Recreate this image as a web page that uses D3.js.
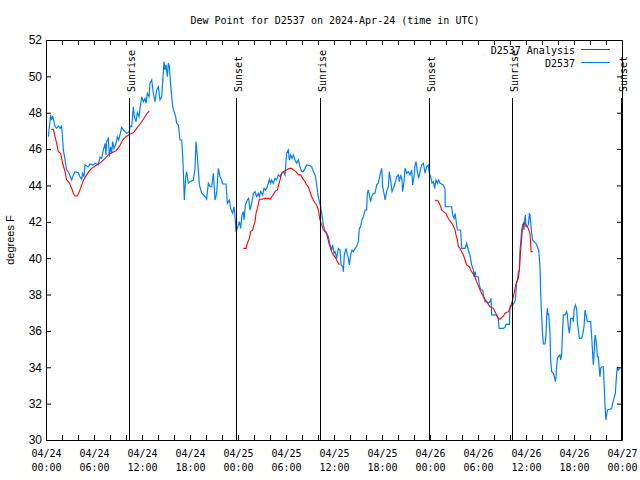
<!DOCTYPE html>
<html><head><meta charset="utf-8">
<script src="https://cdn.jsdelivr.net/npm/d3@7"></script>
<style>body{margin:0;background:#fff}svg{display:block}</style>
</head><body><svg id="c" width="640" height="480"></svg>
<script>
// hours since 2024-04-24 00:00 UTC, dew point in degrees F
const observed = [[0.29,46.68],[0.58,47.88],[0.71,47.60],[0.83,47.82],[1.0,47.51],[1.13,47.23],[1.33,47.14],[1.54,47.27],[1.75,47.14],[1.96,47.27],[2.08,46.5],[2.17,45.95],[2.38,45.40],[2.58,44.85],[2.79,44.76],[3.21,44.30],[3.42,44.58],[3.63,44.76],[4.04,44.70],[4.25,44.48],[4.46,44.34],[4.58,44.67],[4.75,44.48],[4.88,45.13],[5.29,45.03],[5.5,45.18],[5.92,45.13],[6.13,45.22],[6.54,45.13],[6.75,45.55],[6.96,45.49],[7.17,45.95],[7.38,46.32],[7.5,45.68],[7.58,46.41],[7.79,46.59],[7.92,45.58],[8.08,46.13],[8.21,45.77],[8.33,46.41],[8.5,46.04],[8.75,46.32],[8.92,46.68],[9.08,46.50],[9.25,46.78],[9.46,47.20],[9.67,47.05],[9.88,46.96],[10.08,46.87],[10.42,46.96],[10.5,47.27],[10.71,47.23],[10.92,48.33],[11.04,47.78],[11.25,47.51],[11.42,48.0],[11.63,47.78],[11.75,48.24],[11.96,48.88],[12.17,48.61],[12.38,48.79],[12.5,48.52],[12.67,49.07],[12.88,48.88],[13.0,49.62],[13.21,49.80],[13.42,49.07],[13.63,48.61],[13.83,49.25],[14.04,49.43],[14.25,48.70],[14.46,48.88],[14.75,50.81],[14.88,50.35],[15.0,50.63],[15.17,49.98],[15.29,50.72],[15.42,50.53],[15.58,49.53],[15.83,48.33],[16.0,48.06],[16.21,47.78],[16.33,47.42],[16.54,47.33],[16.75,46.50],[16.96,46.50],[17.08,45.68],[17.17,44.76],[17.29,43.20],[17.46,44.48],[17.58,44.76],[17.79,44.12],[18.0,44.21],[18.42,44.30],[18.63,44.94],[18.75,46.41],[18.92,45.58],[19.17,44.03],[19.46,43.57],[19.67,43.48],[19.88,43.38],[20.08,43.24],[20.29,44.12],[20.5,43.93],[20.71,43.93],[20.92,44.67],[21.13,43.20],[21.33,43.57],[21.54,44.94],
[21.75,44.48],[21.96,44.30],[22.08,44.08],[22.5,44.08],[22.67,43.02],[22.92,43.20],[23.08,42.74],[23.33,42.47],[23.5,42.83],[23.63,42.28],[23.75,41.46],[23.92,41.64],[24.17,42.01],[24.33,41.64],[24.5,42.38],[24.67,42.56],[24.75,42.10],[24.92,42.93],[25.17,43.20],[25.33,43.29],[25.5,42.65],[25.71,43.02],[25.92,43.57],[26.13,43.66],[26.33,43.38],[26.54,43.57],[26.67,43.38],[26.83,43.66],[27.08,43.48],[27.25,43.84],[27.42,43.75],[27.58,43.84],[27.79,44.12],[27.92,44.34],[28.08,44.12],[28.21,44.30],[28.42,44.12],[28.63,44.39],[28.83,44.30],[29.04,44.58],[29.25,44.48],[29.46,44.67],[29.67,44.76],[29.88,44.58],[30.08,45.77],[30.29,45.95],[30.42,45.40],[30.58,45.68],[30.75,45.49],[30.92,45.68],[31.13,45.40],[31.33,45.22],[31.54,45.40],[31.75,45.03],[31.96,44.76],[32.17,44.76],[32.38,44.94],[32.58,45.13],[33.0,45.09],[33.21,45.03],[33.42,44.76],[33.63,44.58],[33.75,44.30],[33.92,43.75],[34.04,43.38],[34.17,43.11],[34.33,42.83],[34.46,42.47],[34.67,41.83],[34.88,41.46],[35.08,41.37],[35.29,41.18],
[35.5,40.73],[35.71,40.45],[35.83,40.73],[36.0,40.27],[36.13,40.36],[36.33,39.99],[36.54,40.54],[36.75,40.45],[36.88,39.63],[37.08,39.53],[37.17,39.26],[37.29,40.18],[37.5,40.54],[37.67,40.18],[37.79,39.99],[37.92,39.63],[38.08,40.18],[38.25,40.45],[38.42,40.36],[38.63,40.54],[38.83,40.64],[39.04,40.91],[39.17,41.64],[39.33,41.73],[39.5,42.10],[39.67,42.28],[39.88,42.65],[40.08,42.65],[40.17,43.57],[40.29,43.75],[40.42,43.48],[40.58,43.11],[40.71,43.38],[40.92,43.57],[41.13,43.57],[41.33,44.03],[41.54,44.12],[41.75,44.58],[41.96,44.94],[42.08,43.93],[42.25,43.57],[42.38,43.20],[42.58,43.66],[42.79,43.93],[42.92,44.76],[43.08,44.30],[43.25,43.66],[43.42,43.84],[43.63,44.12],[43.83,44.48],[44.04,44.58],[44.17,44.21],[44.33,44.58],[44.5,44.30],[44.58,43.66],[44.75,44.21],[44.88,44.94],[45.08,44.67],[45.29,44.76],[45.5,44.58],[45.71,44.85],[45.83,44.03],[46.0,44.48],[46.13,45.13],[46.25,45.31],[46.42,44.76],[46.58,44.39],[46.75,44.76],[46.96,45.13],[47.17,45.22],[47.38,44.67],[47.58,45.03],[47.79,45.13],[47.92,44.67],[48.08,44.48],[48.25,44.12],[48.42,44.21],[48.58,43.84],[48.75,44.30],[48.92,44.12],[49.08,44.30],[49.25,44.12],[49.67,44.03],[49.88,43.79],[49.9,42.83],[50.71,42.83],[50.83,42.38],[51.0,42.19],[51.13,42.47],[51.25,42.10],[51.42,41.55],[51.83,41.55],[51.96,40.54],[52.38,40.54],[52.58,40.82],[52.79,40.45],[53.0,40.15],
[53.21,39.63],[53.42,39.35],[53.5,38.98],[53.63,39.26],[53.75,38.98],[54.04,38.98],[54.17,38.53],[54.33,38.25],[54.58,38.25],[54.67,37.98],[54.88,37.61],[55.08,37.61],[55.29,37.52],[55.5,37.61],[55.63,37.79],[55.71,36.88],[56.33,36.88],[56.54,36.69],[56.63,36.14],[57.17,36.14],[57.38,36.20],[57.5,36.36],[57.92,36.36],[58.0,37.37],[58.21,37.37],[58.33,37.43],[58.5,37.52],[58.67,37.70],[58.75,38.16],[58.83,38.71],[58.92,38.71],[59.04,39.26],[59.17,39.35],[59.25,40.45],[59.33,40.82],[59.46,41.55],[59.58,41.83],[59.67,41.92],[59.75,41.55],[59.83,42.10],[59.92,42.37],[60.0,41.73],[60.17,41.73],[60.29,41.83],[60.42,42.47],[60.5,42.37],[60.58,42.01],[60.71,41.37],[60.83,41.0],[61.0,40.91],[61.25,40.82],[61.42,40.63],[61.58,40.45],[61.75,39.53],[61.83,38.07],[61.96,36.78],[62.08,35.78],[62.17,35.28],[62.38,35.28],[62.5,35.78],[62.58,36.78],[62.67,37.24],[62.75,36.88],[62.83,36.97],[63.0,35.87],[63.08,34.40],[63.21,33.76],[63.42,33.67],[63.54,33.48],[63.67,33.21],[63.75,33.48],[63.83,34.03],[63.92,34.49],[64.04,34.58],[64.25,34.68],[64.33,34.40],[64.46,34.68],[64.58,36.14],[64.67,36.88],[64.88,36.88],[65.08,37.06],[65.17,36.88],[65.29,36.23],[65.42,35.87],[65.5,36.14],[65.58,36.69],[65.83,36.69],[65.92,36.51],[66.0,37.15],[66.17,37.43],[66.33,37.24],[66.42,36.51],[66.54,36.05],[66.67,35.59],[66.96,35.59],[67.08,35.78],[67.25,36.23],[67.38,37.15],[67.5,36.88],[67.67,36.51],[68.08,36.51],[68.21,35.68],[68.33,34.77],[68.42,34.13],[68.5,34.68],[68.63,35.78],[68.75,35.50],[68.83,35.13],[68.92,34.58],[69.04,34.58],[69.17,33.85],[69.25,33.48],[69.33,33.94],[69.46,34.03],[69.67,34.03],[69.75,33.21],[69.88,31.83],[70.0,31.1],[70.08,31.38],[70.17,31.65],[70.5,31.69],[70.71,31.74],[70.83,32.02],[71.0,32.29],[71.17,32.57],[71.25,33.12],[71.33,33.67],[71.42,34.03],[71.54,33.85],[71.75,33.94]];

const analysisDay1 = [[0.625,47.09],[0.92,47.09],[1.13,46.68],[1.33,46.32],[1.54,45.86],[1.83,45.77],[2.08,45.22],[2.38,44.76],[2.58,44.30],[2.92,44.15],[3.21,43.84],[3.42,43.57],[3.63,43.42],[3.92,43.42],[4.17,43.66],[4.46,44.03],[4.75,44.34],[5.08,44.58],[5.42,44.80],[5.71,44.94],[6.13,45.07],[6.54,45.18],[6.96,45.31],[7.38,45.49],[7.79,45.68],[8.21,45.80],[8.75,45.91],[9.17,46.13],[9.58,46.50],[10.0,46.68],[10.5,46.83],[10.92,46.90],[11.33,47.14],[11.75,47.38],[12.17,47.64],[12.58,47.93],[12.92,48.10]];
const analysisDay2 = [[24.67,40.54],[25.0,40.54],[25.17,40.82],[25.42,41.09],[25.58,41.46],[25.83,41.55],[26.0,41.83],[26.13,42.01],[26.25,42.47],[26.42,42.74],[26.67,43.24],[26.96,43.24],[27.38,43.29],[27.79,43.29],[28.0,43.24],[28.21,43.38],[28.42,43.48],[28.63,43.66],[28.92,43.75],[29.08,44.03],[29.25,44.30],[29.46,44.67],[29.67,44.76],[30.08,44.85],[30.42,44.94],[30.71,44.94],[30.92,44.85],[31.25,44.76],[31.54,44.58],[31.83,44.58],[32.08,44.39],[32.38,44.21],[32.58,44.03],[32.79,43.93],[33.0,43.66],[33.21,43.38],[33.42,43.20],[33.63,43.02],[33.83,42.93],[34.04,42.65],[34.25,42.10],[34.46,41.83],[34.67,41.55],[35.0,41.46],[35.17,41.18],[35.42,40.73],[35.71,40.36],[35.92,40.18],[36.25,39.99],[36.42,39.81],[36.67,39.63]];
const analysisDay3 = [[48.63,43.20],[48.83,43.16],[49.0,43.16],[49.25,42.93],[49.46,42.65],[49.67,42.56],[50.0,42.47],[50.17,42.28],[50.42,42.10],[50.71,41.92],[50.92,41.77],[51.13,41.55],[51.25,41.28],[51.42,41.0],[51.54,40.64],[51.75,40.54],[51.96,40.36],[52.17,40.18],[52.38,39.90],[52.58,39.63],[52.92,39.53],[53.08,39.35],[53.33,39.17],[53.63,38.98],[53.83,38.71],[54.17,38.34],[54.25,38.25],[54.67,37.88],[55.08,37.61],[55.5,37.33],[55.92,37.24],[56.33,36.88],[56.54,36.69],[56.75,36.64],[57.17,36.82],[57.38,36.97],[57.79,37.06],[58.0,37.24],[58.21,37.52],[58.42,37.88],[58.63,38.34],[58.83,38.71],[59.04,38.89],[59.17,39.35],[59.25,39.90],[59.33,40.45],[59.46,41.09],[59.54,41.55],[59.67,41.83],[59.88,41.92],[60.08,41.80],[60.29,41.64],[60.42,41.46],[60.5,41.37],[60.58,40.82],[60.63,40.36],[60.83,40.36]];

const sunHours = [10.35, 23.8, 34.3, 47.82, 58.3, 71.85];
const sunLabels = ["Sunrise","Sunset","Sunrise","Sunset","Sunrise","Sunset"];
const yTicks = [30,32,34,36,38,40,42,44,46,48,50,52];
const seriesNames = ["D2537 Analysis","D2537"];
const seriesColors = ["#ff0000","#0080ff"];
const titleText = "Dew Point for D2537 on 2024-Apr-24 (time in UTC)";
const yLabel = "degrees F";

const t0 = Date.UTC(2024,3,24);
const toDate = h => new Date(t0 + h*3600e3);
const mono = "'DejaVu Sans Mono', monospace";
const sans = "'Liberation Sans', Arial, sans-serif";

const svg = d3.select("#c");
const L=46, R=622, T=40, B=440;
const x = d3.scaleUtc().domain([toDate(0), toDate(72)]).range([L,R]);
const y = d3.scaleLinear().domain([30,52]).range([B,T]);

svg.append("text").attr("x",335).attr("y",24).attr("text-anchor","middle")
  .attr("font-family",mono).attr("font-size",10).text(titleText);

// plot lines
const line = d3.line().x(d=>x(toDate(d[0]))).y(d=>y(d[1]));
svg.append("clipPath").attr("id","pc").append("rect").attr("x",L).attr("y",T).attr("width",R-L).attr("height",B-T);
const g = svg.append("g").attr("clip-path","url(#pc)");
g.append("path").datum(observed).attr("d",line).attr("fill","none")
  .attr("stroke",seriesColors[1]).attr("stroke-width",1.2);
[analysisDay1,analysisDay2,analysisDay3].forEach(seg=>{
  g.append("path").datum(seg).attr("d",line).attr("fill","none")
   .attr("stroke",seriesColors[0]).attr("stroke-width",1.1);
});

// sun events
sunHours.forEach((h,i)=>{
  const lx = Math.round(x(toDate(h)))+0.5;
  svg.append("line").attr("x1",lx).attr("x2",lx).attr("y1",98).attr("y2",B)
    .attr("stroke","#000").attr("stroke-width",1);
  svg.append("text").attr("transform",`translate(${lx+5},92) rotate(-90)`)
    .attr("font-family",mono).attr("font-size",10).text(sunLabels[i]);
});

// axes
const hourTicks = d3.utcHour.every(2).range(toDate(0), toDate(72.01));
const axB = svg.append("g").attr("transform",`translate(0,${B})`)
  .call(d3.axisBottom(x).tickValues(hourTicks).tickSize(-5).tickSizeOuter(0).tickFormat(""));
const axT = svg.append("g").attr("transform",`translate(0,${T})`)
  .call(d3.axisTop(x).tickValues(hourTicks).tickSize(-5).tickSizeOuter(0).tickFormat(""));
const axL = svg.append("g").attr("transform",`translate(${L},0)`)
  .call(d3.axisLeft(y).tickValues(yTicks).tickSize(-5).tickSizeOuter(0).tickPadding(4).tickFormat(d3.format("d")));
const axR = svg.append("g").attr("transform",`translate(${R},0)`)
  .call(d3.axisRight(y).tickValues(yTicks).tickSize(-5).tickSizeOuter(0).tickFormat(""));
[axB,axT,axL,axR].forEach(a=>{a.selectAll("path,line").attr("stroke","#000");});
axL.selectAll("text").attr("font-family",sans).attr("font-size",12).attr("fill","#000");

const labTicks = d3.utcHour.every(6).range(toDate(0), toDate(72.01));
const fD = d3.utcFormat("%m/%d"), fH = d3.utcFormat("%H:%M");
const xl = svg.append("g").attr("font-family",mono).attr("font-size",10).attr("text-anchor","middle");
labTicks.forEach(d=>{
  const t = xl.append("text");
  t.append("tspan").attr("x",x(d)+0.5).attr("y",457).text(fD(d));
  t.append("tspan").attr("x",x(d)+0.5).attr("y",471).text(fH(d));
});

svg.append("text").attr("transform","translate(14,240) rotate(-90)").attr("text-anchor","middle")
  .attr("font-family",sans).attr("font-size",11).text(yLabel);

// legend
seriesNames.forEach((n,i)=>{
  const ly = 49.5 + i*13;
  svg.append("text").attr("x",575).attr("y",ly+4.5).attr("text-anchor","end")
    .attr("font-family",mono).attr("font-size",10).text(n);
  svg.append("line").attr("x1",581).attr("x2",610).attr("y1",ly).attr("y2",ly)
    .attr("stroke",seriesColors[i]).attr("stroke-width",1);
});
</script></body></html>
